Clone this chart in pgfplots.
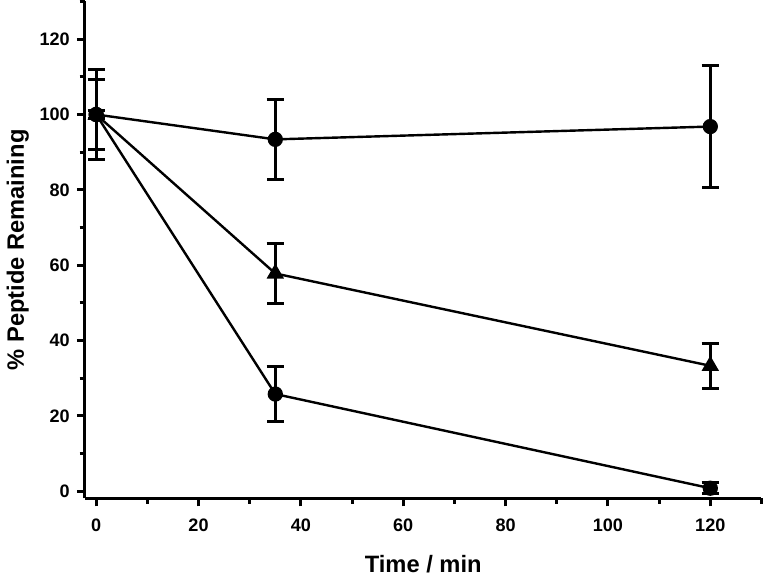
\documentclass[border=0pt]{standalone}
\usepackage{pgfplots}
\pgfplotsset{compat=1.18}
\usepackage{fontspec}
\setmainfont{Liberation Sans}
\begin{document}
\begin{tikzpicture}
\begin{axis}[
  scale only axis, width=337pt, height=247.5pt,
  xmin=-2.2, xmax=130, ymin=-1.9, ymax=130,
  axis lines=left, axis line style={-, line width=1.5pt},
  xtick={0,20,...,120}, ytick={0,20,...,120},
  minor xtick={10,30,...,130}, minor ytick={10,30,...,130},
  tick align=outside, major tick length=4pt, minor tick length=2.6pt,
  every tick/.style={line width=1.5pt, black},
  tick label style={font=\fontsize{9}{10}\selectfont\bfseries},
  xticklabel style={yshift=-2.5pt},
  /pgf/number format/assume math mode=true,
  xlabel={Time / min}, ylabel={\% Peptide Remaining},
  label style={font=\fontsize{11.8}{13}\selectfont\bfseries},
  xlabel style={yshift=-5pt},
  ylabel style={yshift=-1.5pt},
  error bars/error bar style={line width=1.5pt, black},
  error bars/error mark options={rotate=90, mark size=4.3pt, line width=1.5pt, black},
]
\addplot[black, line width=1.2pt, mark=*, mark size=3.2pt, mark options={fill=black, solid},
  error bars/.cd, y dir=both, y explicit]
  coordinates {(0,100) +- (0,12) (35,93.4) +- (0,10.7) (120,96.8) +- (0,16.2)};
\addplot[black, line width=1.2pt, mark=triangle*, mark size=3.8pt, mark options={fill=black, solid},
  error bars/.cd, y dir=both, y explicit]
  coordinates {(0,100) +- (0,9.4) (35,57.8) +- (0,7.9) (120,33.3) +- (0,6)};
\addplot[black, line width=1.2pt, mark=*, mark size=3.2pt, mark options={fill=black, solid},
  error bars/.cd, y dir=both, y explicit]
  coordinates {(0,100) +- (0,1) (35,25.8) +- (0,7.4) (120,0.8) +- (0,1.5)};
\end{axis}
\end{tikzpicture}
\end{document}
